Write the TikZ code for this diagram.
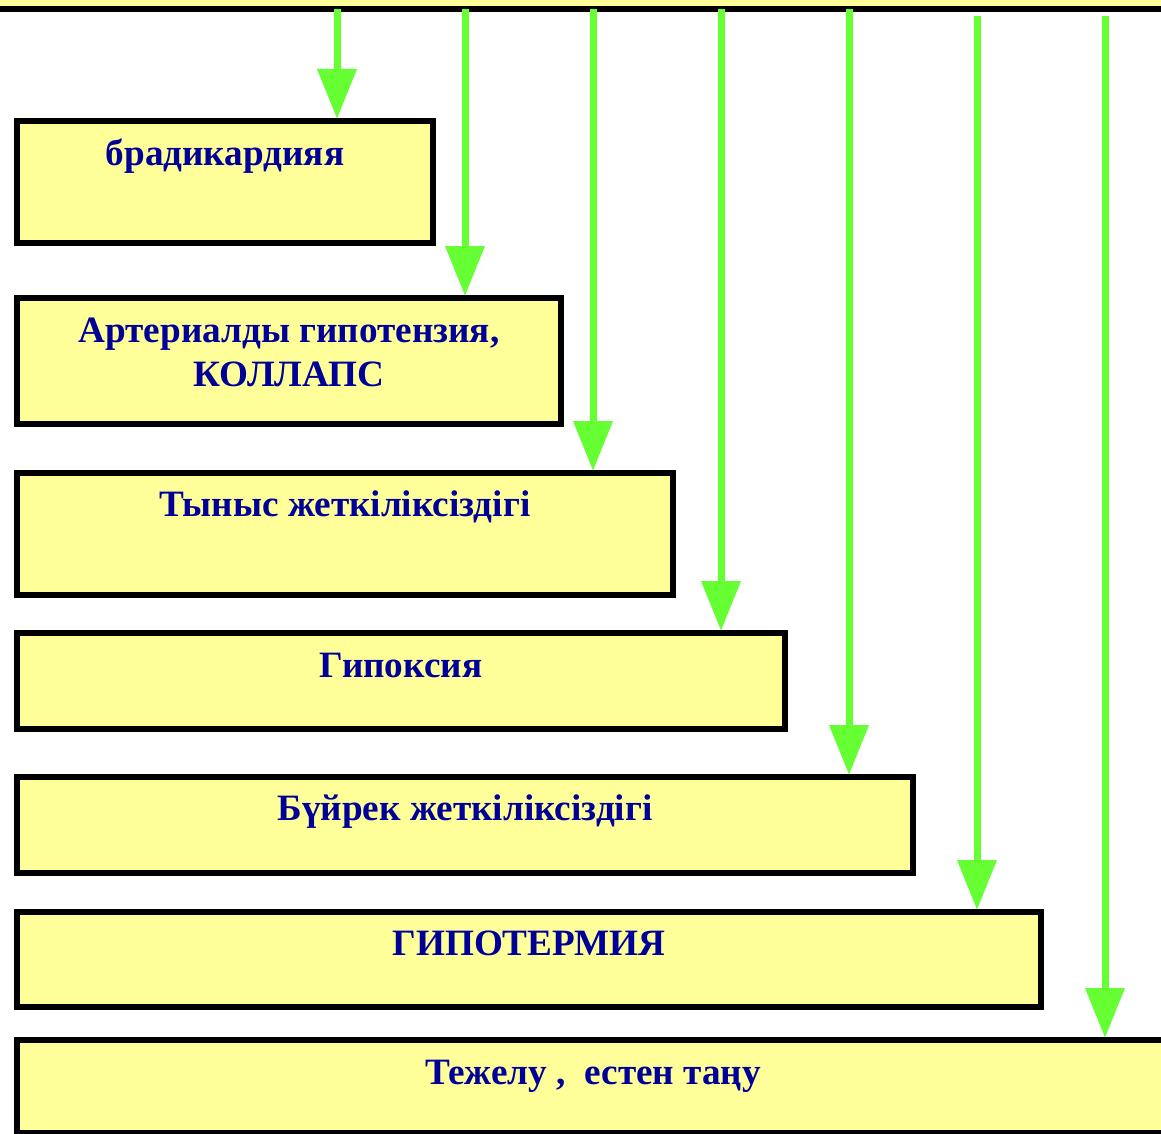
\documentclass[tikz,border=0pt]{standalone}
\usepackage{fontspec}
\setmainfont{Liberation Serif}
\usetikzlibrary{arrows.meta}
\definecolor{boxyellow}{HTML}{FFFF99}
\definecolor{arrgreen}{HTML}{66FF33}
\definecolor{txtblue}{HTML}{000099}
\tikzset{
  stage/.style={draw=black, fill=boxyellow, line width=6pt, rectangle, inner sep=0pt},
  lbl/.style={text=txtblue, font=\fontsize{37.2}{43}\selectfont\bfseries, anchor=base, inner sep=0pt, align=center},
  arr/.style={draw=arrgreen, line width=7pt, -{Triangle[width=38pt,length=50pt]}, shorten >=-1pt}
}
\begin{document}
\begin{tikzpicture}[x=1pt,y=-1pt]
\useasboundingbox (0,0) rectangle (1161,1134);
\fill[white] (0,0) rectangle (1161,1134);
% top bar
\node[stage, minimum width=1200, minimum height=40] (top) at (580,-11) {};
% boxes: center (x,y), width = outer-6, height = outer-6
\node[stage, minimum width=416, minimum height=122] (b1) at (225,182) {};
\node[stage, minimum width=544, minimum height=126] (b2) at (289,361) {};
\node[stage, minimum width=656, minimum height=122] (b3) at (345,534) {};
\node[stage, minimum width=768, minimum height=96] (b4) at (401,681) {};
\node[stage, minimum width=896, minimum height=96] (b5) at (465,825) {};
\node[stage, minimum width=1024, minimum height=95] (b6) at (529,959.5) {};
\node[stage, minimum width=1152, minimum height=93] (b7) at (593,1086.5) {};
% labels
\node[lbl] (t1) at (225,166) {брадикардияя};
\node[lbl] (t2) at (289,342) {Артериалды гипотензия,};
\node[lbl] (t2b) at (289,386) {КОЛЛАПС};
\node[lbl] (t3) at (345,516) {Тыныс жеткіліксіздігі};
\node[lbl] (t4) at (401,677) {Гипоксия};
\node[lbl] (t5) at (465,820) {Бүйрек жеткіліксіздігі};
\node[lbl] (t6) at (529,955) {ГИПОТЕРМИЯ};
\node[lbl] (t7) at (593,1084) {Тежелу ,\ \ естен таңу};
% arrow starts
\coordinate (s1) at (337,9);
\coordinate (s2) at (465,9);
\coordinate (s3) at (593,9);
\coordinate (s4) at (721,9);
\coordinate (s5) at (849,9);
\coordinate (s6) at (977,16);
\coordinate (s7) at (1105,16);
\draw[arr] (s1) -- (s1 |- b1.north);
\draw[arr] (s2) -- (s2 |- b2.north);
\draw[arr] (s3) -- (s3 |- b3.north);
\draw[arr] (s4) -- (s4 |- b4.north);
\draw[arr] (s5) -- (s5 |- b5.north);
\draw[arr] (s6) -- (s6 |- b6.north);
\draw[arr] (s7) -- (s7 |- b7.north);
\end{tikzpicture}
\end{document}
